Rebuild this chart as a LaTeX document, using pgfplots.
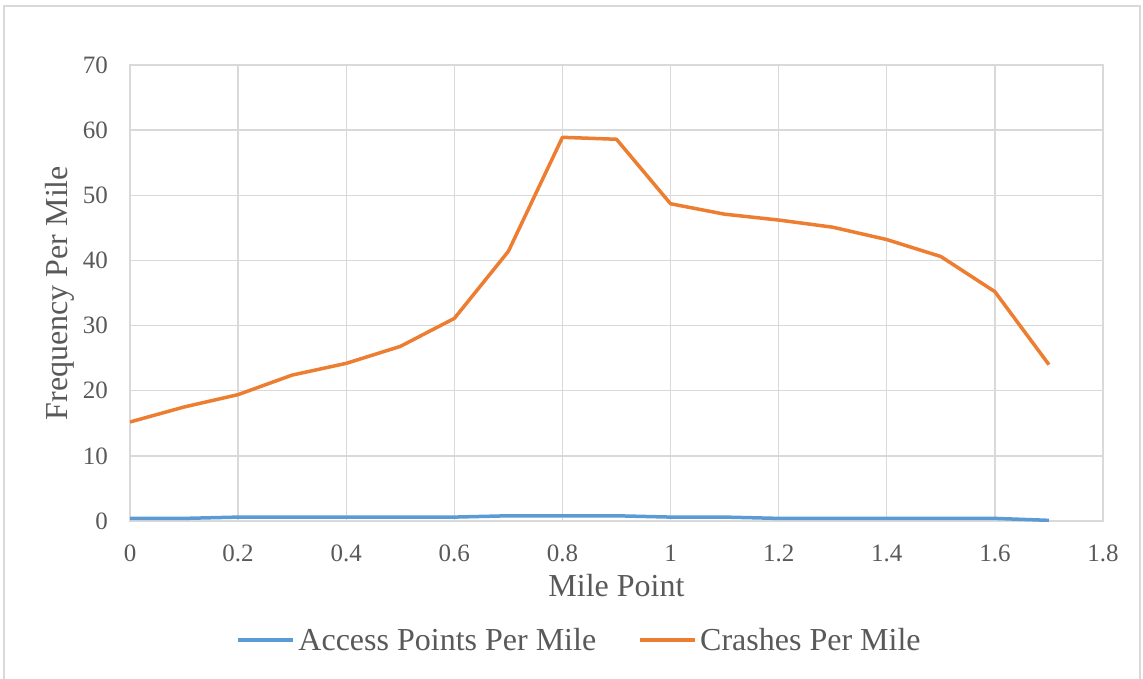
\documentclass[border=0pt]{standalone}
\usepackage{fontspec}
\setmainfont{Liberation Serif}
\usepackage{pgfplots}
\pgfplotsset{compat=1.18}

\definecolor{gridgray}{HTML}{D9D9D9}
\definecolor{txtgray}{HTML}{595959}
\definecolor{accblue}{HTML}{5B9BD5}
\definecolor{crashorange}{HTML}{ED7D31}

\begin{document}
\begin{tikzpicture}[x=1pt,y=1pt]
\path[use as bounding box] (0,0) rectangle (1143,678);
% outer chart frame
\draw[gridgray, line width=1.2pt] (4,-5) -- (4,672) -- (1140,672) -- (1140,-5);

\begin{axis}[
  at={(130pt,157pt)}, anchor=south west,
  scale only axis,
  width=973pt, height=456pt,
  xmin=0, xmax=1.8, ymin=0, ymax=70,
  xtick distance=0.2, ytick distance=10,
  major tick length=0pt,
  grid=major,
  grid style={gridgray, line width=1.4pt},
  axis line style={gridgray, line width=1.4pt},
  /pgf/number format/assume math mode=true,
  tick label style={font=\fontsize{25}{30}\selectfont, text=txtgray, inner sep=0pt},
  xticklabel style={anchor=base, yshift=-40pt},
  yticklabel style={anchor=east, xshift=-22pt},
  label style={font=\fontsize{32}{38}\selectfont, text=txtgray},
  xlabel={Mile Point},
  xlabel style={at={(axis description cs:0.5,0)}, anchor=base, yshift=-75pt, inner sep=0pt},
  ylabel={Frequency Per Mile},
  ylabel style={at={(axis description cs:0,0.5)}, anchor=base, yshift=63pt, inner sep=0pt},
  legend columns=2,
  legend style={at={(axis description cs:0.462,-0.261)}, anchor=center, draw=none,
    font=\fontsize{32}{38}\selectfont, text=txtgray,
    /tikz/every odd column/.append style={column sep=1.5pt},
    /tikz/every even column/.append style={column sep=40pt}},
  legend cell align=left,
  legend image code/.code={\draw[#1] (0pt,0pt) -- (55pt,0pt);},
]
\addplot[accblue, line width=3.5pt, line join=round] coordinates {
  (0,0.4) (0.1,0.4) (0.2,0.6) (0.3,0.6) (0.4,0.6) (0.5,0.6) (0.6,0.6)
  (0.7,0.8) (0.8,0.8) (0.9,0.8) (1.0,0.6) (1.1,0.6) (1.2,0.4) (1.3,0.4)
  (1.4,0.4) (1.5,0.4) (1.6,0.4) (1.7,0.1)
};
\addlegendentry{Access Points Per Mile}
\addplot[crashorange, line width=3.5pt, line join=round] coordinates {
  (0,15.2) (0.1,17.5) (0.2,19.4) (0.3,22.4) (0.4,24.2) (0.5,26.8) (0.6,31.1)
  (0.7,41.4) (0.8,58.9) (0.9,58.6) (1.0,48.7) (1.1,47.1) (1.2,46.2) (1.3,45.1)
  (1.4,43.2) (1.5,40.6) (1.6,35.2) (1.7,24.0)
};
\addlegendentry{Crashes Per Mile}
\end{axis}
\end{tikzpicture}
\end{document}
